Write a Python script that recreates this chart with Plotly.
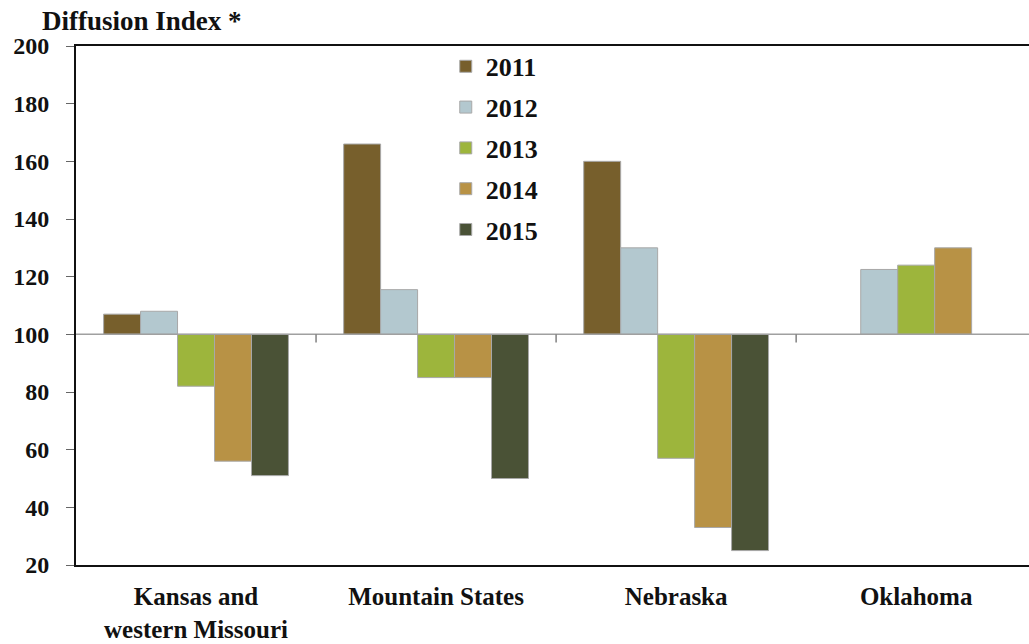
import plotly.graph_objects as go

categories = ["Kansas and<br>western Missouri", "Mountain States", "Nebraska", "Oklahoma"]
years = ["2011", "2012", "2013", "2014", "2015"]
v2011 = [107, 166, 160, None]
v2012 = [108, 115.5, 130, 122.5]
v2013 = [82, 85, 57, 124]
v2014 = [56, 85, 33, 130]
v2015 = [51, 50, 25, None]
series = [v2011, v2012, v2013, v2014, v2015]
colors = ["#775f2c", "#b3c8cf", "#9db53c", "#b89245", "#4a5236"]
baseline = 100
yticks = [20, 40, 60, 80, 100, 120, 140, 160, 180, 200]

FONT = "Liberation Serif"
fig = go.Figure()
for yr, vals, col in zip(years, series, colors):
    fig.add_trace(go.Bar(
        x=list(range(len(categories))),
        y=[None if v is None else v - baseline for v in vals],
        base=baseline,
        name=yr,
        legendgroup=yr,
        marker=dict(color=col, line=dict(color="#a8a8a8", width=1)),
    ))

shapes = [dict(type="line", xref="paper", yref="y", x0=0, x1=1, y0=baseline, y1=baseline,
               line=dict(color="#a0a0a0", width=1.5), layer="above")]
for i in range(len(categories) - 1):
    shapes.append(dict(type="line", xref="x", yref="y", x0=i + 0.5, x1=i + 0.5,
                       y0=baseline, y1=baseline - 2.8, line=dict(color="#808080", width=1.5)))

fig.update_layout(
    width=1029, height=644,
    margin=dict(l=76, r=0, t=46, b=79, autoexpand=False),
    paper_bgcolor="white", plot_bgcolor="white",
    barmode="group", bargap=0.23, bargroupgap=0,
    font=dict(family=FONT, color="#111111", size=24),
    showlegend=True,
    legend=dict(x=0.388, y=1.006, xanchor="left", yanchor="top",
                bgcolor="rgba(0,0,0,0)", traceorder="grouped", tracegroupgap=4,
                font=dict(family=FONT, size=26, weight="bold", color="#111111"),
                itemwidth=30),
    shapes=shapes,
    annotations=[dict(text="Diffusion Index *", xref="paper", yref="paper",
                      x=-0.038, y=1.0, xanchor="left", yanchor="bottom", yshift=8,
                      showarrow=False,
                      font=dict(family=FONT, size=27, weight="bold", color="#111111"))],
)
fig.update_xaxes(
    range=[-0.5, 3.47],
    tickvals=list(range(len(categories))), ticktext=categories,
    tickfont=dict(family=FONT, size=25, weight="bold", color="#111111"),
    showline=True, linecolor="#111111", linewidth=2, mirror=True, automargin=False,
    ticks="", showgrid=False, zeroline=False, ticklabelstandoff=8,
)
fig.update_yaxes(
    range=[20, 200], tickvals=yticks, automargin=False,
    tickfont=dict(family=FONT, size=24, weight="bold", color="#111111"),
    showline=True, linecolor="#111111", linewidth=2,
    ticks="outside", ticklen=8, tickcolor="#666666", ticklabelstandoff=12,
    showgrid=False, zeroline=False,
)
fig.write_html("out.html", config={"displayModeBar": False},
               post_script="document.body.style.margin='0';document.body.style.overflow='hidden';")
